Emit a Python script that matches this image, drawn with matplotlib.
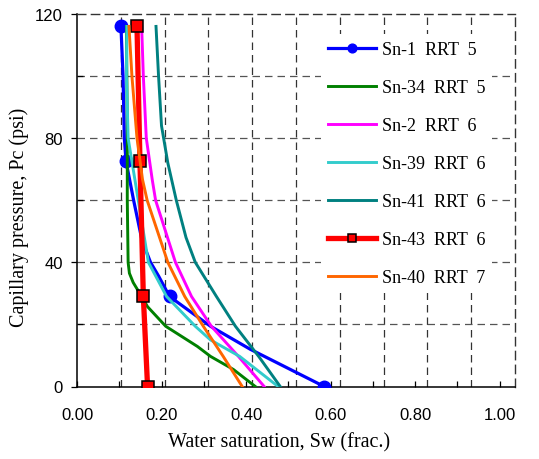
import numpy as np
import matplotlib
matplotlib.use("Agg")
import matplotlib.pyplot as plt

# values (Pc in psi, Sw as fraction)
sn1_pc = [116, 100, 80, 72.6, 60, 47, 40, 35.6, 29, 19.4, 12, 0]
sn1_sw = [0.104, 0.109, 0.112, 0.116, 0.134, 0.154, 0.174, 0.193, 0.219, 0.316, 0.41, 0.585]
sn1_marks = [0, 3, 8, 11]

sn34_pc = [116, 100, 80, 60, 40, 36.5, 33.5, 29, 25.7, 19.4, 12.9, 9.7, 5.5, 0]
sn34_sw = [0.117, 0.118, 0.119, 0.119, 0.121, 0.124, 0.133, 0.153, 0.167, 0.21, 0.285, 0.316, 0.37, 0.422]

sn2_pc = [116, 100, 80, 66.7, 60, 40, 29, 19.4, 9.7, 0]
sn2_sw = [0.153, 0.157, 0.164, 0.178, 0.186, 0.233, 0.271, 0.318, 0.382, 0.443]

sn39_pc = [116, 100, 80, 60, 40, 29, 19.4, 15, 9.7, 0]
sn39_sw = [0.118, 0.117, 0.121, 0.145, 0.169, 0.212, 0.28, 0.316, 0.385, 0.476]

sn41_pc = [116, 100, 84, 72, 60, 48, 40, 29, 19.4, 9.7, 0]
sn41_sw = [0.187, 0.193, 0.2, 0.215, 0.235, 0.258, 0.28, 0.33, 0.375, 0.43, 0.481]

sn43_pc = [116, 72.6, 29, 0]
sn43_sw = [0.142, 0.149, 0.157, 0.167]

sn40_pc = [116, 100, 80, 66.7, 60, 40, 29, 19.4, 9.7, 0]
sn40_sw = [0.123, 0.13, 0.142, 0.155, 0.166, 0.215, 0.255, 0.299, 0.346, 0.391]

x_ticks = [0.0, 0.2, 0.4, 0.6, 0.8, 1.0]
y_ticks = [0, 40, 80, 120]

fig = plt.figure(figsize=(5.39, 4.60), dpi=100)
ax = fig.add_axes([77 / 539, 72.5 / 460, 438 / 539, 372.5 / 460])

xmax = (515 - 76.5) / 423
ax.set_xlim(0, xmax)
ax.set_ylim(0, 120)

# overlay grid, dashed, split evenly across the frame
dash = (0, (6, 4))
for gx in np.linspace(0, xmax, 11)[1:-1]:
    ax.axvline(gx, color="#333333", lw=0.9, ls=dash, zorder=1)
for gy in [20, 40, 60, 80, 100]:
    ax.axhline(gy, color="#555555", lw=0.9, ls=dash, zorder=1)

ax.plot(sn1_sw, sn1_pc, color="#0000ff", lw=2.3, marker="o", ms=9,
        markevery=sn1_marks, label="Sn-1  RRT  5", zorder=3)
ax.plot(sn34_sw, sn34_pc, color="#008000", lw=2.1, label="Sn-34  RRT  5", zorder=3)
ax.plot(sn2_sw, sn2_pc, color="#ff00ff", lw=2.1, label="Sn-2  RRT  6", zorder=3)
ax.plot(sn39_sw, sn39_pc, color="#33cccc", lw=2.1, label="Sn-39  RRT  6", zorder=3)
ax.plot(sn41_sw, sn41_pc, color="#008080", lw=2.1, label="Sn-41  RRT  6", zorder=3)
ax.plot(sn43_sw, sn43_pc, color="#ff0000", lw=3.8, marker="s", ms=9,
        mfc="#ff0000", mec="black", mew=1.1, label="Sn-43  RRT  6", zorder=3)
ax.plot(sn40_sw, sn40_pc, color="#ff6600", lw=2.1, label="Sn-40  RRT  7", zorder=3)

# axes frame: solid left/bottom, dashed top/right
for s in ["left", "bottom"]:
    ax.spines[s].set_color("black")
    ax.spines[s].set_linewidth(1.1)
for s in ["top", "right"]:
    ax.spines[s].set_color("#333333")
    ax.spines[s].set_linewidth(1.0)
    ax.spines[s].set_linestyle(dash)

ax.set_xticks(x_ticks)
ax.set_xticklabels([f"{v:.2f}" for v in x_ticks])
ax.set_xticks([0.1, 0.3, 0.5, 0.7, 0.9], minor=True)
ax.set_yticks(y_ticks)
ax.set_yticks([20, 60, 100], minor=True)
ax.tick_params(axis="x", which="both", direction="in", length=4, width=0.9,
               pad=15, labelsize=12)
ax.tick_params(axis="y", which="major", direction="out", length=4, width=0.9,
               pad=6, labelsize=12)
ax.tick_params(axis="y", which="minor", direction="in", length=4, width=0.9)
for lab in ax.get_xticklabels() + ax.get_yticklabels():
    lab.set_fontfamily("Liberation Sans")

ax.set_xlabel("Water saturation, Sw (frac.)", family="Liberation Serif", fontsize=14.5)
ax.xaxis.set_label_coords((279 - 77) / 438, (387.5 - 443) / 372.5)
ax.xaxis.label.set_va("center")
ax.set_ylabel("Capillary pressure, Pc (psi)", family="Liberation Serif", fontsize=14.5)
ax.yaxis.set_label_coords((19 - 77) / 438, (387.5 - 217.5) / 372.5)
ax.yaxis.label.set_va("center")

leg = ax.legend(loc="upper left", bbox_to_anchor=(312 / 539, 1 - 26 / 460),
                bbox_transform=fig.transFigure, frameon=True, fancybox=False,
                framealpha=1, edgecolor="none", facecolor="white",
                prop={"family": "Liberation Serif", "size": 13},
                handlelength=2.65, handletextpad=0.3, labelspacing=1.16,
                borderpad=0.4, markerscale=0.7)
leg.set_zorder(5)

fig.savefig("out.png", dpi=100)
